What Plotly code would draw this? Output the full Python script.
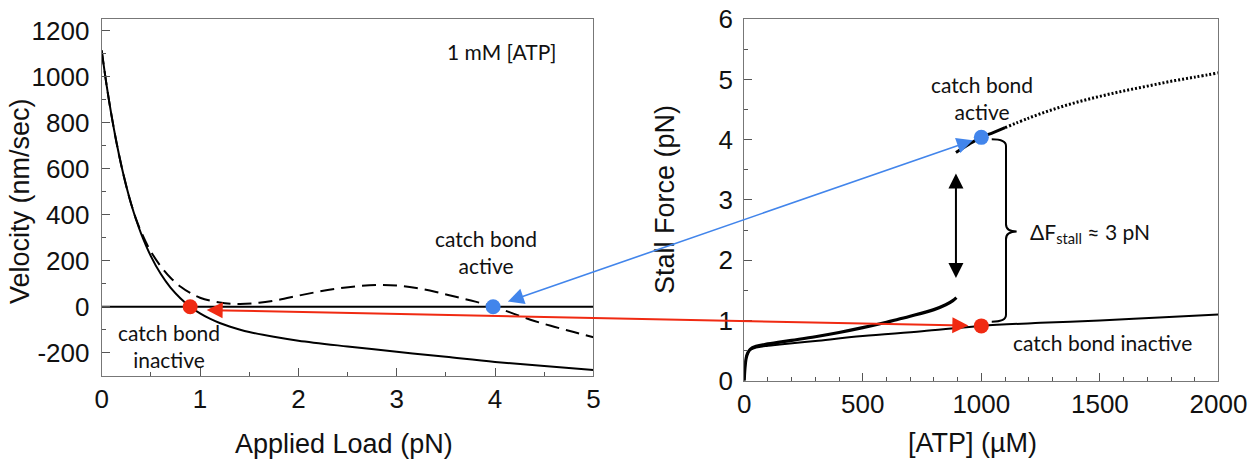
import plotly.graph_objects as go

W, H = 1252, 459

# ---------------- Left panel: force-velocity at 1 mM ATP ----------------
load_inactive = [0, 0.05, 0.1, 0.15, 0.2, 0.25, 0.3, 0.35, 0.4, 0.5, 0.6, 0.7, 0.8, 0.9,
                 1.0, 1.1, 1.2, 1.3, 1.4, 1.5, 1.75, 2.0, 2.5, 3.0, 3.5, 4.0, 4.5, 5.0]
vel_inactive = [1115, 964, 832, 716, 614, 525, 447, 379, 319, 220, 143, 83, 37, 0,
                -29, -52, -71, -86, -99, -110, -131, -148, -173, -196, -218, -240, -258, -275]

load_active = [0, 0.05, 0.1, 0.15, 0.2, 0.25, 0.3, 0.35, 0.4, 0.45, 0.5, 0.6, 0.7, 0.8, 0.9,
               1.0, 1.2, 1.4, 1.6, 1.8, 2.0, 2.2, 2.4, 2.6, 2.8, 3.0, 3.2, 3.4, 3.6,
               3.8, 4.0, 4.2, 4.4, 4.6, 4.8, 5.0]
vel_active = [1115, 964, 832, 716, 614, 525, 447, 381, 327, 281, 240, 176, 126, 88, 60,
              39, 18, 12, 17, 30, 48, 65, 79, 89, 94, 92, 81, 64, 43,
              22, -2, -32, -62, -87, -110, -133]

zero_load = [0, 5]
zero_vel = [0, 0]

vel_tick_vals = [-200, 0, 200, 400, 600, 800, 1000, 1200]
vel_tick_text = ["-200", "0", "200", "400", "600", "800", "1000", "1200"]

left_red = (0.9, 0)
left_blue = (3.98, 0)

# ---------------- Right panel: stall force vs [ATP] ----------------
atp_inactive = [0, 3, 8, 15, 25, 50, 100, 150, 300, 500, 750, 1000, 1250, 1500, 1750, 2000]
stall_inactive = [0, 0.2, 0.37, 0.46, 0.51, 0.55, 0.58, 0.6, 0.66, 0.74, 0.82, 0.91, 0.96,
                  1.0, 1.05, 1.1]

atp_low = [0, 3, 8, 15, 25, 50, 100, 200, 300, 400, 500, 600, 650, 700, 800, 850, 880, 895]
stall_low = [0, 0.2, 0.37, 0.46, 0.52, 0.57, 0.61, 0.67, 0.73, 0.8, 0.88, 0.97, 1.02, 1.07,
             1.18, 1.26, 1.33, 1.38]

atp_high = [893, 950, 1000, 1050, 1100, 1200, 1300, 1400, 1500, 1600, 1700, 1800, 1900, 2000]
stall_high = [3.79, 3.93, 4.04, 4.12, 4.2, 4.36, 4.5, 4.62, 4.72, 4.81, 4.89, 4.97, 5.04, 5.11]
n_solid = 5  # first points of upper branch drawn solid

right_red = (1000, 0.91)
right_blue = (1000, 4.04)

# ---------------- layout geometry ----------------
LXD, LYD = [0.0812, 0.4740], [0.1815, 0.958]
RXD, RYD = [0.5944, 0.9732], [0.1706, 0.958]
LXR, LYR = [0, 5], [-300, 1250]
RXR, RYR = [0, 2000], [0, 6]

RED = "rgb(240,42,18)"
BLUE = "rgb(66,133,235)"
TICKFONT = dict(family="Liberation Sans", size=26, color="#111")
TITLEFONT = dict(family="Liberation Sans", size=27, color="#111")
ANNFONT = dict(family="Lato", size=21, color="#111")


def to_px(x, y, xd, yd, xr, yr):
    px = W * (xd[0] + (x - xr[0]) / (xr[1] - xr[0]) * (xd[1] - xd[0]))
    py = H * (1 - (yd[0] + (y - yr[0]) / (yr[1] - yr[0]) * (yd[1] - yd[0])))
    return px, py


fig = go.Figure()

# left traces
fig.add_trace(go.Scatter(x=zero_load, y=zero_vel, mode="lines",
                         line=dict(color="black", width=2), xaxis="x", yaxis="y"))
fig.add_trace(go.Scatter(x=load_active, y=vel_active, mode="lines", line_shape="spline",
                         line=dict(color="black", width=2, dash="14px,7px"), xaxis="x", yaxis="y"))
fig.add_trace(go.Scatter(x=load_inactive, y=vel_inactive, mode="lines", line_shape="spline",
                         line=dict(color="black", width=2), xaxis="x", yaxis="y"))
fig.add_trace(go.Scatter(x=[left_red[0]], y=[left_red[1]], mode="markers",
                         marker=dict(color=RED, size=15), xaxis="x", yaxis="y"))
fig.add_trace(go.Scatter(x=[left_blue[0]], y=[left_blue[1]], mode="markers",
                         marker=dict(color=BLUE, size=15), xaxis="x", yaxis="y"))

# right traces
fig.add_trace(go.Scatter(x=atp_inactive, y=stall_inactive, mode="lines", line_shape="spline",
                         line=dict(color="black", width=2), xaxis="x2", yaxis="y2"))
fig.add_trace(go.Scatter(x=atp_low, y=stall_low, mode="lines", line_shape="spline",
                         line=dict(color="black", width=3.2), xaxis="x2", yaxis="y2"))
fig.add_trace(go.Scatter(x=atp_high[:n_solid], y=stall_high[:n_solid], mode="lines",
                         line_shape="spline", line=dict(color="black", width=3),
                         xaxis="x2", yaxis="y2"))
fig.add_trace(go.Scatter(x=atp_high[n_solid - 1:], y=stall_high[n_solid - 1:], mode="lines",
                         line_shape="spline", line=dict(color="black", width=3, dash="2px,2px"),
                         xaxis="x2", yaxis="y2"))
fig.add_trace(go.Scatter(x=[right_red[0]], y=[right_red[1]], mode="markers",
                         marker=dict(color=RED, size=15), xaxis="x2", yaxis="y2"))
fig.add_trace(go.Scatter(x=[right_blue[0]], y=[right_blue[1]], mode="markers",
                         marker=dict(color=BLUE, size=15), xaxis="x2", yaxis="y2"))

axis_common = dict(showline=True, mirror=True, linecolor="#777", linewidth=1,
                   ticks="inside", ticklen=8, tickcolor="#555", tickwidth=1,
                   showgrid=False, zeroline=False, tickfont=TICKFONT, automargin=False)
minor_common = dict(ticklen=4, tickcolor="#555", ticks="inside", showgrid=False)

fig.update_layout(
    template="none",
    width=W, height=H, margin=dict(l=0, r=0, t=0, b=0, pad=0),
    paper_bgcolor="white", plot_bgcolor="white", showlegend=False,
    xaxis=dict(domain=LXD, range=LXR, dtick=1, tick0=0, anchor="y",
               minor=dict(dtick=0.5, **minor_common),
               ticklabelstandoff=0, **axis_common),
    yaxis=dict(domain=LYD, range=LYR, tickmode="array", tickvals=vel_tick_vals,
               ticktext=vel_tick_text, anchor="x",
               minor=dict(dtick=100, tick0=0, **minor_common),
               ticklabelstandoff=6, **axis_common),
    xaxis2=dict(domain=RXD, range=RXR, dtick=500, tick0=0, anchor="y2",
                minor=dict(dtick=100, **minor_common),
                ticklabelstandoff=0, **axis_common),
    yaxis2=dict(domain=RYD, range=RYR, dtick=1, tick0=0, anchor="x2",
                minor=dict(dtick=0.5, **minor_common),
                ticklabelstandoff=5, **axis_common),
)

ann = []
# axis titles
ann.append(dict(text="Applied Load (pN)", x=344 / W, y=1 - 444 / H, xref="paper", yref="paper",
                showarrow=False, font=TITLEFONT, xanchor="center", yanchor="middle"))
ann.append(dict(text="Velocity (nm/sec)", x=20 / W, y=1 - 201 / H, xref="paper", yref="paper",
                showarrow=False, font=TITLEFONT, textangle=-90, xanchor="center", yanchor="middle"))
ann.append(dict(text="[ATP] (µM)", x=972 / W, y=1 - 443 / H, xref="paper", yref="paper",
                showarrow=False, font=TITLEFONT, xanchor="center", yanchor="middle"))
ann.append(dict(text="Stall Force (pN)", x=665 / W, y=1 - 200 / H, xref="paper", yref="paper",
                showarrow=False, font=TITLEFONT, textangle=-90, xanchor="center", yanchor="middle"))

# left text
ann.append(dict(text="1 mM [ATP]", x=4.07, y=1109, xref="x", yref="y", showarrow=False,
                font=ANNFONT))
ann.append(dict(text="catch bond<br>active", x=3.91, y=239, xref="x", yref="y", showarrow=False,
                font=ANNFONT))
ann.append(dict(text="catch bond<br>inactive", x=0.68, y=-170, xref="x", yref="y",
                showarrow=False, font=ANNFONT))
# right text
ann.append(dict(text="catch bond<br>active", x=1001, y=4.69, xref="x2", yref="y2",
                showarrow=False, font=ANNFONT))
ann.append(dict(text="catch bond inactive", x=1513, y=0.626, xref="x2", yref="y2",
                showarrow=False, font=ANNFONT))
ann.append(dict(text="ΔF<sub>stall</sub> ≈ 3 pN", x=1196, y=2.46, xref="x2", yref="y2",
                showarrow=False, font=ANNFONT, xanchor="left", yanchor="middle"))

# double arrow between branches
ann.append(dict(x=893, y=3.44, ax=893, ay=1.68, xref="x2", yref="y2", axref="x2", ayref="y2",
                showarrow=True, arrowhead=2, startarrowhead=2, arrowside="end+start",
                arrowwidth=2, arrowsize=1.5, startarrowsize=1.5, arrowcolor="black", text=""))

# blue connecting arrow (right blue dot <-> left blue dot)
rbx, rby = to_px(*right_blue, RXD, RYD, RXR, RYR)
lbx, lby = to_px(*left_blue, LXD, LYD, LXR, LYR)
ann.append(dict(x=right_blue[0], y=right_blue[1], xref="x2", yref="y2",
                ax=lbx - rbx, ay=lby - rby, axref="pixel", ayref="pixel",
                showarrow=True, arrowhead=2, startarrowhead=2, arrowside="end+start",
                arrowwidth=1.6, arrowsize=2, startarrowsize=2, arrowcolor=BLUE,
                standoff=9, startstandoff=14, text=""))
# red connecting arrow
rrx, rry = to_px(*right_red, RXD, RYD, RXR, RYR)
lrx, lry = to_px(*left_red, LXD, LYD, LXR, LYR)
ann.append(dict(x=right_red[0], y=right_red[1], xref="x2", yref="y2",
                ax=lrx - rrx, ay=lry - rry + 3, axref="pixel", ayref="pixel",
                showarrow=True, arrowhead=2, startarrowhead=2, arrowside="end+start",
                arrowwidth=2, arrowsize=1.6, startarrowsize=1.6, arrowcolor=RED,
                standoff=13, startstandoff=15, text=""))

fig.update_layout(annotations=ann)

# curly bracket
fig.add_shape(type="path", xref="x2", yref="y2",
              path="M 1044,4.01 Q 1104,4.01 1104,3.9 L 1104,2.6 Q 1104,2.475 1149,2.475 "
                   "Q 1104,2.475 1104,2.35 L 1104,1.09 Q 1104,0.98 1044,0.98",
              line=dict(color="black", width=2))

fig.write_html("out.html")
